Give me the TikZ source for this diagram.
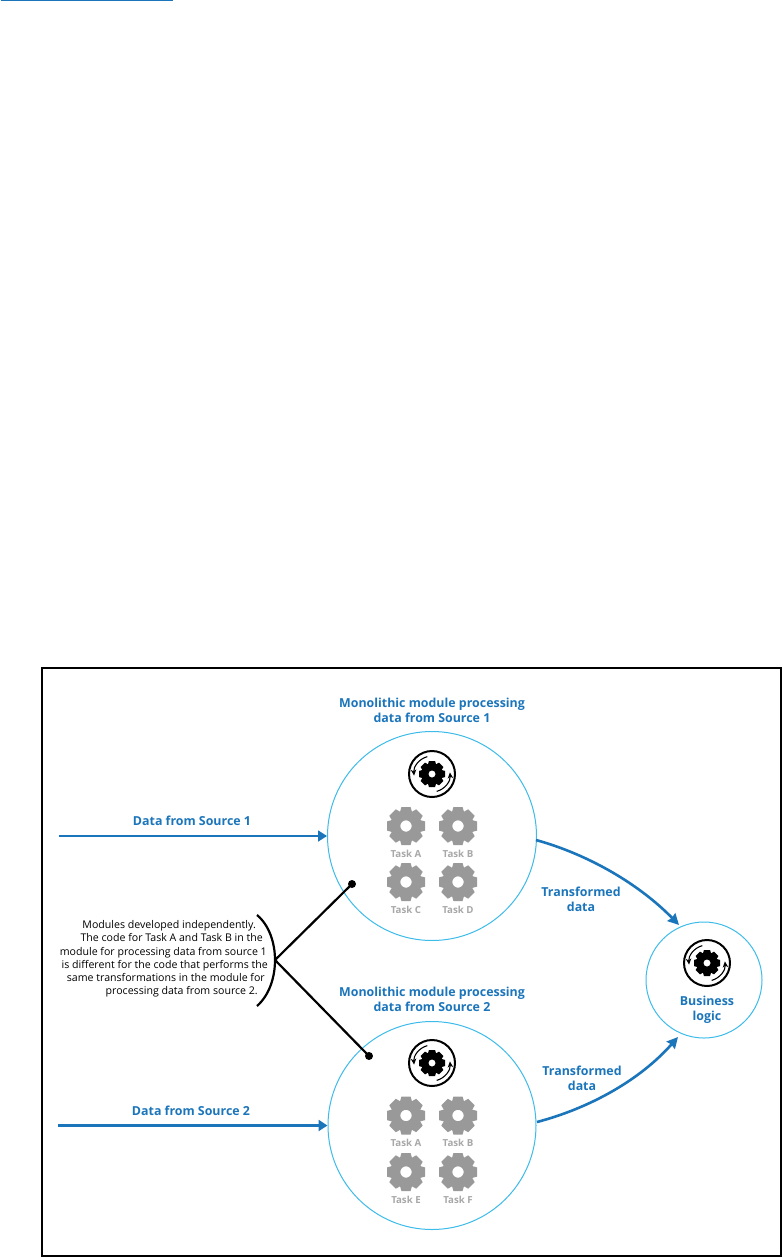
\documentclass[tikz,border=0pt]{standalone}
\usepackage{fontspec}
\setmainfont{Open Sans}
\usetikzlibrary{arrows.meta,calc}
\definecolor{tblue}{HTML}{1B75BB}
\definecolor{cyanline}{HTML}{3DBBEA}
\definecolor{geargray}{HTML}{999999}
\definecolor{taskgray}{HTML}{A8A8A8}
\newcommand{\rpad}[1]{\rule{#1}{0pt}}
\tikzset{
  x=1pt,y=-1pt,
  gearg/.pic={
    \foreach \i in {0,...,7}{
      \fill[geargray,rotate=\i*45] (-4.6,-19) -- (4.6,-19) -- (6.4,-12.5) -- (-6.4,-12.5) -- cycle;
    }
    \fill[geargray,even odd rule] (0,0) circle[radius=14.2] (0,0) circle[radius=5.7];
  },
  procicon/.pic={
    \draw[black,line width=2pt] (0,0) circle[radius=23];
    \foreach \i in {0,...,7}{
      \fill[black,rotate=\i*45] (-3.1,-13) -- (3.1,-13) -- (4.3,-8.5) -- (-4.3,-8.5) -- cycle;
    }
    \fill[black,even odd rule] (0,0) circle[radius=9.7] (0,0) circle[radius=3.6];
    \draw[black,line width=1.1pt,-{Stealth[length=6pt,width=5.5pt]}] (-105:18) arc[start angle=-105,end angle=-185,radius=18];
    \draw[black,line width=1.1pt,-{Stealth[length=6pt,width=5.5pt]}] (75:18) arc[start angle=75,end angle=-5,radius=18];
  },
  rim/.style={draw=cyanline,line width=1pt},
  flow/.style={draw=tblue,line width=1.7pt,-{Stealth[length=9pt,width=11pt,inset=0pt]}},
  flowb/.style={draw=tblue,line width=2.7pt,-{Stealth[length=9pt,width=11pt,inset=0pt]}},
  flowthick/.style={draw=tblue,line width=2.6pt,-{Stealth[length=11pt,width=11pt,inset=1pt]}},
  lead/.style={draw=black,line width=2.2pt},
  bluetext/.style={text=tblue,font=\fontsize{12.4}{15.2}\selectfont\bfseries,align=center,inner sep=0pt},
  tasktext/.style={text=taskgray,font=\fontsize{9.7}{10}\selectfont\bfseries,inner sep=0pt},
  notetext/.style={text=black,font=\fontsize{10.6}{13.2}\selectfont,align=right,inner sep=0pt},
}
\begin{document}
\begin{tikzpicture}
\useasboundingbox (0,0) rectangle (783,1258);
\fill[white] (0,0) rectangle (783,1258);
\draw[tblue,line width=1.2pt] (1,0.5) -- (173,0.5);
\node[draw=black,line width=2.2pt,outer sep=0pt,minimum width=739.3pt,minimum height=588pt,inner sep=0pt,anchor=north west] (frame) at (41.7,668) {};

\node[rim,circle,minimum size=209pt,inner sep=0pt] (m1) at (432,836) {};
\node[rim,circle,minimum size=208pt,inner sep=0pt] (m2) at (432,1125.5) {};
\node[rim,circle,minimum size=116pt,inner sep=0pt] (bl) at (704,980) {};

\node[bluetext] (t1) at (432,710) {Monolithic module processing\\data from Source 1};
\node[bluetext] (t2) at (432,999) {Monolithic module processing\\data from Source 2};
\node[bluetext] (bt) at (707,1010) {Business\\logic};
\node[bluetext] (d1) at (192,821) {Data from Source 1};
\node[bluetext] (d2) at (191,1111) {Data from Source 2};
\node[bluetext] (tr1) at (581,899.5) {Transformed\\data};
\node[bluetext] (tr2) at (582,1078) {Transformed\\data};

\coordinate (s1) at (59,836);
\coordinate (s2) at (58,1125.5);
\draw[flow] (s1) -- (m1.west);
\draw[flowb] (s2) -- (m2.west);
\coordinate (o1) at (536,840);
\coordinate (o2) at (537,1122);
\coordinate (i1) at (679,925);
\coordinate (i2) at (678,1037);
\draw[flowthick] (o1) .. controls (590,855) and (640,885) .. (i1);
\draw[flowthick] (o2) .. controls (590,1108) and (640,1080) .. (i2);

\foreach \n/\x/\y/\l in {a/406/826/Task A,b/458/826/Task B,c/406/882/Task C,d/458/882/Task D,e/406/1115.5/Task A,f/458/1115.5/Task B,g/406/1172/Task E,h/458/1172/Task F}{
  \pic at (\x,\y) {gearg};
  \node[tasktext] (task\n) at (\x,\y+27.5) {\l};
}
\pic at (432,774) {procicon};
\pic at (432,1063) {procicon};
\pic at (707,963) {procicon};

\node[notetext,anchor=east] (note) at (268,959) {Modules developed independently.\rpad{12pt}\\The code for Task A and Task B in the\rpad{5pt}\\module for processing data from source 1\rpad{1pt}\\is different for the code that performs the\\same transformations in the module for\rpad{3pt}\\processing data from source 2.\rpad{10pt}};
\coordinate (b1) at (257,915);
\coordinate (b2) at (257,1006);
\coordinate (j) at (275,960);
\coordinate (e1) at (352,884);
\coordinate (e2) at (369,1056);
\draw[lead] (b1) .. controls (281,935) and (281,985) .. (b2);
\draw[lead] (j) -- (e1);
\draw[lead] (j) -- (e2);
\fill (e1) circle[radius=4];
\fill (e2) circle[radius=4];
\end{tikzpicture}
\end{document}
